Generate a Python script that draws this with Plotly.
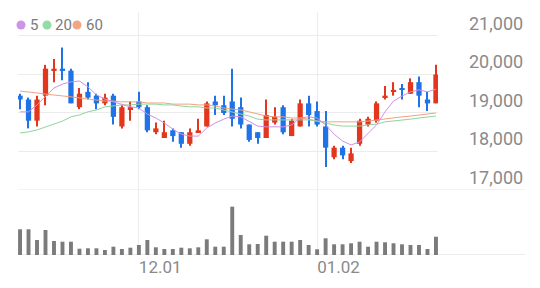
import plotly.graph_objects as go

dates = ["11.11", "11.14", "11.15", "11.16", "11.17", "11.18", "11.21", "11.22", "11.23", "11.24",
         "11.25", "11.28", "11.29", "11.30", "12.01", "12.02", "12.05", "12.06", "12.07", "12.08",
         "12.09", "12.12", "12.13", "12.14", "12.15", "12.16", "12.19", "12.20", "12.21", "12.22",
         "12.23", "12.26", "12.27", "12.28", "12.29", "01.02", "01.03", "01.04", "01.05", "01.06",
         "01.09", "01.10", "01.11", "01.12", "01.13", "01.16", "01.17", "01.18", "01.19", "01.20"]

open_ = [19450, 19350, 18800, 19450, 20100, 20150, 20100, 19150, 19550, 19450,
         19250, 19450, 18650, 19100, 19300, 19150, 18500, 18350, 18550, 18500,
         18200, 18500, 18650, 19300, 19200, 19300, 19150, 18700, 18500, 18350,
         18750, 19150, 18400, 18650, 19250, 19050, 18650, 17850, 18100, 17750,
         18200, 18700, 18800, 19400, 19550, 19650, 19500, 19800, 19350, 19250]
high = [19500, 19400, 19450, 20250, 20400, 20700, 20150, 19650, 19800, 19500,
        19500, 19500, 19200, 19300, 19550, 19200, 18750, 18800, 18600, 18500,
        18600, 18850, 19300, 19450, 19450, 20150, 19400, 18700, 18500, 19350,
        19150, 19200, 18850, 19350, 19450, 19300, 19050, 18150, 18150, 18100,
        18850, 18900, 19300, 19700, 19800, 19750, 19900, 19950, 19550, 20250]
low = [19100, 18600, 18650, 19200, 19800, 19850, 19250, 19100, 19350, 19100,
       19200, 18700, 18600, 18800, 19100, 18500, 18450, 18350, 18250, 18100,
       18150, 18500, 18650, 18950, 18950, 18650, 18600, 18250, 18200, 18350,
       18700, 18450, 18400, 18650, 18650, 18650, 17600, 17800, 17800, 17700,
       18150, 18650, 18750, 19350, 19450, 19350, 19500, 19150, 19050, 19250]
close = [19350, 18800, 19350, 20150, 20150, 20100, 19250, 19500, 19400, 19250,
         19400, 18900, 19150, 19150, 19150, 18550, 18600, 18500, 18400, 18200,
         18500, 18550, 19250, 19200, 19000, 18850, 18700, 18300, 18350, 18950,
         18900, 18500, 18800, 19250, 18950, 18700, 18100, 18100, 17900, 17950,
         18800, 18850, 19250, 19450, 19600, 19600, 19800, 19450, 19250, 20000]
volume = [257000, 257000, 150000, 250000, 140000, 133000, 133000, 63000, 67000, 67000,
          50000, 83000, 60000, 73000, 100000, 150000, 77000, 60000, 60000, 73000,
          67000, 77000, 157000, 83000, 83000, 483000, 200000, 107000, 110000, 193000,
          133000, 133000, 133000, 150000, 100000, 57000, 167000, 107000, 107000, 117000,
          133000, 83000, 133000, 127000, 117000, 107000, 100000, 100000, 60000, 183000]

ma5 = [19030, 19030, 19210, 19440, 19650, 19750, 19810, 19830, 19680, 19470,
       19360, 19290, 19230, 19160, 19130, 18970, 18870, 18740, 18580, 18450,
       18400, 18400, 18610, 18740, 18840, 18920, 18900, 18770, 18660, 18640,
       18640, 18640, 18690, 18870, 18900, 18870, 18690, 18450, 18270, 18170,
       18250, 18480, 18690, 19030, 19310, 19440, 19550, 19600, 19550, 19620]
ma20 = [18480, 18510, 18560, 18640, 18710, 18790, 18900, 18950, 19030, 19080,
        19160, 19180, 19210, 19210, 19230, 19230, 19230, 19210, 19210, 19180,
        19160, 19160, 19130, 19130, 19080, 19030, 18970, 18920, 18840, 18820,
        18820, 18820, 18820, 18820, 18820, 18790, 18740, 18690, 18660, 18660,
        18660, 18690, 18710, 18770, 18790, 18820, 18840, 18870, 18900, 18920]
ma60 = [19570, 19550, 19520, 19490, 19470, 19440, 19420, 19390, 19360, 19340,
        19310, 19310, 19290, 19290, 19290, 19260, 19260, 19260, 19230, 19230,
        19230, 19210, 19210, 19180, 19130, 19100, 19080, 19030, 18970, 18920,
        18900, 18900, 18870, 18870, 18840, 18790, 18770, 18770, 18770, 18770,
        18770, 18790, 18820, 18840, 18870, 18900, 18920, 18950, 18970, 19000]

price_ticks = [17000, 18000, 19000, 20000, 21000]
date_ticks = ["12.01", "01.02"]
ma_names = ["5", "20", "60"]

UP = "#e2371d"
DOWN = "#1f73e6"
MA_COLORS = ["#cf91e6", "#8fd49e", "#f0a37f"]
DOT_COLORS = ["#cc95e8", "#93dca6", "#f2a682"]
GRID = "#ececec"
TXT = "#8a8a8a"
FONT = "Roboto"

colors = [UP if c >= o else DOWN for o, c in zip(open_, close)]
body_base = [min(o, c) for o, c in zip(open_, close)]
body_h = [abs(c - o) for o, c in zip(open_, close)]
wick_h = [h - l for h, l in zip(high, low)]

fig = go.Figure()
fig.add_trace(go.Bar(x=dates, y=wick_h, base=low, width=0.13, marker=dict(color=colors, line_width=0),
                     xaxis="x", yaxis="y", hoverinfo="skip"))
fig.add_trace(go.Bar(x=dates, y=body_h, base=body_base, width=0.62, marker=dict(color=colors, line_width=0),
                     xaxis="x", yaxis="y"))
for vals, col in zip([ma60, ma20, ma5], [MA_COLORS[2], MA_COLORS[1], MA_COLORS[0]]):
    fig.add_trace(go.Scatter(x=dates, y=vals, mode="lines", line=dict(color=col, width=1),
                             xaxis="x", yaxis="y"))
fig.add_trace(go.Bar(x=dates, y=volume, width=0.46, marker=dict(color="#7b7b7b", line_width=0),
                     xaxis="x2", yaxis="y2"))

split = 0.2675
fig.update_layout(
    width=540, height=288,
    margin=dict(l=18, r=102, t=12, b=33, pad=0),
    paper_bgcolor="white", plot_bgcolor="white",
    showlegend=False, barmode="overlay",
    font=dict(family=FONT, color=TXT),
    xaxis=dict(domain=[0, 1], anchor="y", type="category", range=[-0.24, 49.24],
               tickvals=date_ticks, showticklabels=False, ticks="",
               showgrid=True, gridcolor=GRID, gridwidth=1, zeroline=False, showline=False),
    yaxis=dict(domain=[split, 1], side="right", range=[17000, 21623],
               tickvals=price_ticks, tickformat=",d", ticks="",
               ticklabelposition="outside top", ticklabelstandoff=30,
               tickfont=dict(size=18, color=TXT, family=FONT),
               showgrid=True, gridcolor=GRID, gridwidth=1, zeroline=False, showline=False),
    xaxis2=dict(domain=[0, 1], anchor="y2", type="category", range=[-0.24, 49.24],
                matches="x", tickvals=date_ticks, ticks="",
                ticklabelposition="outside right",
                tickfont=dict(size=17, color=TXT, family=FONT),
                showgrid=True, gridcolor=GRID, gridwidth=1, zeroline=False, showline=False),
    yaxis2=dict(domain=[0, split], range=[0, 650000], visible=False, showgrid=False),
)

ext = (525 - 18) / 420
fig.add_shape(type="line", xref="paper", yref="y", x0=0, x1=ext, y0=price_ticks[0], y1=price_ticks[0],
              line=dict(color="#e6e6e6", width=1), layer="below")
fig.add_shape(type="line", xref="paper", yref="y2", x0=0, x1=ext, y0=0, y1=0,
              line=dict(color="#dcdcdc", width=1), layer="below")

dot_x = [0.0071, 0.069, 0.1405]
txt_x = [0.0262, 0.0857, 0.1595]
ly = 0.9465
for name, dc, dx, tx in zip(ma_names, DOT_COLORS, dot_x, txt_x):
    fig.add_shape(type="circle", xref="paper", yref="paper", xsizemode="pixel", ysizemode="pixel",
                  xanchor=dx, yanchor=ly, x0=-4.5, x1=4.5, y0=-4.5, y1=4.5,
                  fillcolor=dc, line_width=0)
    fig.add_annotation(xref="paper", yref="paper", x=tx, y=ly, xanchor="left", yanchor="middle",
                       text=name, showarrow=False, borderpad=0,
                       font=dict(size=15, color="#7a7a7a", family=FONT))

fig.write_html("out.html")
